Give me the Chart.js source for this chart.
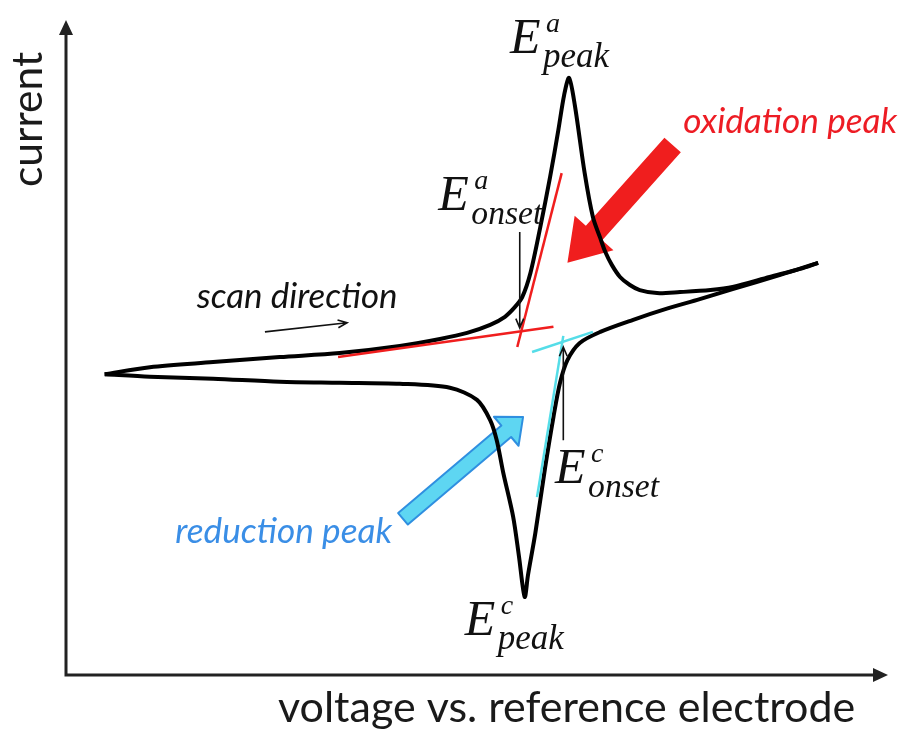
<!DOCTYPE html>
<html>
<head>
<meta charset="utf-8">
<title>Cyclic voltammogram</title>
<script src="https://cdn.jsdelivr.net/npm/chart.js@4.4.1/dist/chart.umd.min.js"></script>
<style>
    body { margin: 0; background: #fff; }
    #wrap { width: 903px; height: 733px; }
</style>
</head>
<body>
<div id="wrap"><canvas id="cvChart"></canvas></div>
<script>
// forward scan (left -> right), arbitrary units
var forwardV = [4.7, 10.2, 17.9, 26.0, 33.3, 40.6, 45.5, 48.8, 51.6, 53.4, 54.6, 55.5, 56.5, 57.7, 58.9, 59.9, 60.6, 61.2, 61.9, 63.1, 64.1, 65.0, 65.6, 66.4, 67.4, 68.6, 69.8, 71.9, 74.7, 78.4, 81.1, 85.6, 89.3, 91.5];
var forwardI = [-0.3, 1.1, 2.1, 3.1, 3.9, 5.3, 6.7, 7.9, 9.5, 11.1, 13.0, 15.0, 19.8, 28.9, 38.9, 48.2, 55.1, 58.5, 53.1, 39.6, 30.9, 26.7, 24.0, 21.4, 19.0, 17.4, 16.4, 15.8, 16.0, 16.4, 17.0, 19.0, 20.6, 21.8];
// reverse scan (right -> left)
var reverseV = [91.5, 86.9, 81.1, 77.1, 73.1, 69.0, 65.0, 62.5, 61.0, 60.1, 59.3, 58.3, 57.1, 56.2, 55.8, 55.1, 54.4, 53.2, 52.4, 51.6, 50.0, 46.7, 40.6, 33.3, 26.0, 17.9, 10.2, 4.7];
var reverseI = [21.8, 19.4, 16.6, 14.6, 12.7, 10.5, 8.1, 5.9, 2.5, -2.0, -8.8, -18.7, -31.8, -40.2, -44.5, -36.4, -28.6, -19.9, -13.4, -9.4, -5.4, -3.0, -2.2, -2.0, -1.8, -1.2, -0.8, -0.3];

// onset tangents
var oxBaseV = [33.1, 59.3], oxBaseI = [3.1, 9.1];
var oxSlopeV = [54.9, 60.3], oxSlopeI = [5.1, 39.6];
var rdBaseV = [56.7, 64.1], rdBaseI = [4.1, 8.1];
var rdSlopeV = [60.5, 57.3], rdSlopeI = [7.3, -24.7];

var voltRange = [0, 100];
var currentRange = [-60, 70];

// annotations (data units)
var bigArrows = [
    { from: [73.8, 45.2], to: [61.0, 21.8], shaft: 22, headL: 40, headW: 52, fill: 'rgb(240,30,30)', stroke: null },
    { from: [41.0, -29.0], to: [55.6, -8.8], shaft: 15, headL: 22, headW: 38, fill: 'rgb(94,214,242)', stroke: 'rgb(47,143,224)' }
];
var thinArrows = [
    { from: [55.2, 27.9], to: [55.2, 8.9] },
    { from: [60.5, -13.4], to: [60.5, 5.1] },
    { from: [24.2, 8.1], to: [34.2, 9.9] }
];
var eLabels = [
    { at: [54.0, 63.5], sup: 'a', sub: 'peak' },
    { at: [45.3, 32.3], sup: 'a', sub: 'onset' },
    { at: [59.5, -21.9], sup: 'c', sub: 'onset' },
    { at: [48.5, -52.1], sup: 'c', sub: 'peak' }
];
var notes = [
    { text: 'scan direction', at: [15.9, 12.8], w: 201, color: '#111' },
    { text: 'oxidation peak', at: [75.1, 47.6], w: 214, color: 'rgb(237,28,36)' },
    { text: 'reduction peak', at: [13.3, -33.8], w: 217, color: 'rgb(58,142,230)' }
];

function pts(xs, ys) {
    return xs.map(function (x, i) { return { x: x, y: ys[i] }; });
}

function fitFont(ctx, text, tmpl, w) {
    ctx.font = tmpl.replace('SIZE', '100px');
    var s = 100 * w / ctx.measureText(text).width;
    return tmpl.replace('SIZE', s.toFixed(1) + 'px');
}

var decorPlugin = {
    id: 'decor',
    beforeDatasetsDraw: function (chart) {
        var ctx = chart.ctx, xs = chart.scales.x, ys = chart.scales.y;
        bigArrows.forEach(function (a) {
            var x0 = xs.getPixelForValue(a.from[0]), y0 = ys.getPixelForValue(a.from[1]);
            var x1 = xs.getPixelForValue(a.to[0]), y1 = ys.getPixelForValue(a.to[1]);
            var len = Math.hypot(x1 - x0, y1 - y0);
            var dx = (x1 - x0) / len, dy = (y1 - y0) / len;
            var px = -dy, py = dx;
            var bx = x1 - dx * a.headL, by = y1 - dy * a.headL;
            ctx.save();
            ctx.beginPath();
            ctx.moveTo(x0 + px * a.shaft / 2, y0 + py * a.shaft / 2);
            ctx.lineTo(bx + px * a.shaft / 2, by + py * a.shaft / 2);
            ctx.lineTo(bx + px * a.headW / 2, by + py * a.headW / 2);
            ctx.lineTo(x1, y1);
            ctx.lineTo(bx - px * a.headW / 2, by - py * a.headW / 2);
            ctx.lineTo(bx - px * a.shaft / 2, by - py * a.shaft / 2);
            ctx.lineTo(x0 - px * a.shaft / 2, y0 - py * a.shaft / 2);
            ctx.closePath();
            ctx.fillStyle = a.fill;
            ctx.fill();
            if (a.stroke) {
                ctx.strokeStyle = a.stroke;
                ctx.lineWidth = 2;
                ctx.lineJoin = 'round';
                ctx.stroke();
            }
            ctx.restore();
        });
    },
    afterDraw: function (chart) {
        var ctx = chart.ctx, xs = chart.scales.x, ys = chart.scales.y;
        var area = chart.chartArea;
        ctx.save();

        // axes with arrow heads
        ctx.strokeStyle = '#222';
        ctx.fillStyle = '#222';
        ctx.lineWidth = 3;
        ctx.beginPath();
        ctx.moveTo(area.left, area.top + 8);
        ctx.lineTo(area.left, area.bottom);
        ctx.lineTo(area.right - 8, area.bottom);
        ctx.stroke();
        ctx.beginPath();
        ctx.moveTo(area.left, area.top);
        ctx.lineTo(area.left - 7, area.top + 15);
        ctx.lineTo(area.left + 7, area.top + 15);
        ctx.closePath();
        ctx.fill();
        ctx.beginPath();
        ctx.moveTo(area.right, area.bottom);
        ctx.lineTo(area.right - 15, area.bottom - 7);
        ctx.lineTo(area.right - 15, area.bottom + 7);
        ctx.closePath();
        ctx.fill();

        // thin arrows
        ctx.strokeStyle = '#111';
        ctx.lineWidth = 1.6;
        thinArrows.forEach(function (a) {
            var x0 = xs.getPixelForValue(a.from[0]), y0 = ys.getPixelForValue(a.from[1]);
            var x1 = xs.getPixelForValue(a.to[0]), y1 = ys.getPixelForValue(a.to[1]);
            var ang = Math.atan2(y1 - y0, x1 - x0);
            ctx.beginPath();
            ctx.moveTo(x0, y0);
            ctx.lineTo(x1, y1);
            ctx.moveTo(x1 - 10 * Math.cos(ang - 0.4), y1 - 10 * Math.sin(ang - 0.4));
            ctx.lineTo(x1, y1);
            ctx.lineTo(x1 - 10 * Math.cos(ang + 0.4), y1 - 10 * Math.sin(ang + 0.4));
            ctx.stroke();
        });

        // E labels
        ctx.fillStyle = '#111';
        ctx.textBaseline = 'alphabetic';
        ctx.textAlign = 'left';
        eLabels.forEach(function (l) {
            var x = xs.getPixelForValue(l.at[0]), y = ys.getPixelForValue(l.at[1]);
            ctx.font = 'italic 50px "Liberation Serif"';
            ctx.fillText('E', x, y);
            ctx.font = 'italic 28px "Liberation Serif"';
            ctx.fillText(l.sup, x + 36, y - 21);
            ctx.font = fitFont(ctx, l.sub, 'italic SIZE "Liberation Serif"', l.sub === 'peak' ? 66 : 71);
            ctx.fillText(l.sub, x + 33, y + 14);
        });

        // italic notes
        notes.forEach(function (n) {
            var x = xs.getPixelForValue(n.at[0]), y = ys.getPixelForValue(n.at[1]);
            ctx.font = fitFont(ctx, n.text, 'italic SIZE Lato', n.w);
            ctx.fillStyle = n.color;
            ctx.fillText(n.text, x, y);
        });

        // axis titles
        ctx.fillStyle = '#1a1a1a';
        ctx.font = fitFont(ctx, 'voltage vs. reference electrode', 'SIZE Lato', 577);
        ctx.fillText('voltage vs. reference electrode', 278, 722);
        ctx.translate(42, 187);
        ctx.rotate(-Math.PI / 2);
        ctx.font = fitFont(ctx, 'current', 'SIZE Lato', 135);
        ctx.fillText('current', 0, 0);
        ctx.restore();
    }
};

var ctx = document.getElementById('cvChart').getContext('2d');

var curveStyle = { showLine: true, borderColor: '#000', borderWidth: 4, pointRadius: 0, tension: 0.3, order: 2 };

var cvChart = new Chart(ctx, {
    type: 'scatter',
    data: {
        datasets: [
            { label: 'ox baseline', data: pts(oxBaseV, oxBaseI), showLine: true, borderColor: 'rgb(240,30,30)', borderWidth: 2.5, pointRadius: 0, order: 1 },
            { label: 'ox slope', data: pts(oxSlopeV, oxSlopeI), showLine: true, borderColor: 'rgb(240,30,30)', borderWidth: 2.5, pointRadius: 0, order: 1 },
            { label: 'red baseline', data: pts(rdBaseV, rdBaseI), showLine: true, borderColor: 'rgb(85,221,232)', borderWidth: 2.5, pointRadius: 0, order: 1 },
            { label: 'red slope', data: pts(rdSlopeV, rdSlopeI), showLine: true, borderColor: 'rgb(85,221,232)', borderWidth: 2.5, pointRadius: 0, order: 1 },
            Object.assign({ label: 'forward', data: pts(forwardV, forwardI) }, curveStyle),
            Object.assign({ label: 'reverse', data: pts(reverseV, reverseI) }, curveStyle)
        ]
    },
    options: {
        responsive: true,
        maintainAspectRatio: false,
        animation: false,
        layout: { padding: { left: 66, right: 15, top: 20, bottom: 58 } },
        scales: {
            x: { type: 'linear', display: false, min: voltRange[0], max: voltRange[1] },
            y: { type: 'linear', display: false, min: currentRange[0], max: currentRange[1] }
        },
        plugins: {
            legend: { display: false },
            tooltip: { enabled: false }
        }
    },
    plugins: [decorPlugin]
});
</script>
</body>
</html>
